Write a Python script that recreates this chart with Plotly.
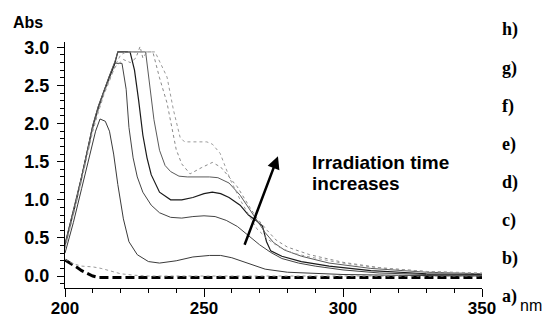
import plotly.graph_objects as go

# ---------------- data ----------------
wl_a = [200, 202, 204, 206, 208, 210, 212, 220, 250, 300, 350]
abs_a = [0.21, 0.17, 0.12, 0.07, 0.03, 0.0, -0.02, -0.02, -0.02, -0.02, -0.02]

wl_b = [200, 203, 206, 210, 213, 216, 220, 225, 230, 260, 300, 350]
abs_b = [0.22, 0.16, 0.13, 0.12, 0.10, 0.07, 0.03, 0.01, 0.0, 0.0, 0.0, 0.0]

wl_c = [200, 203, 206, 209, 211, 212.6, 214.5, 216, 217.5, 219, 221, 223, 226, 230, 234,
        240, 246, 252, 256, 260, 264, 268, 272, 280, 290, 300, 320, 350]
abs_c = [0.30, 0.70, 1.15, 1.60, 1.90, 2.06, 2.03, 1.90, 1.60, 1.20, 0.75, 0.45, 0.28, 0.19, 0.17,
         0.20, 0.25, 0.27, 0.27, 0.24, 0.19, 0.13, 0.09, 0.05, 0.03, 0.02, 0.01, 0.0]

wl_d = [200, 202, 204, 206, 208, 210, 212, 214, 216, 218, 220.5, 222, 223, 224.5, 226, 228, 231,
        234, 238, 242, 246, 250, 254, 258, 262, 266, 270, 274, 278, 284, 290, 300, 313, 330, 350]
abs_d = [0.42, 0.70, 1.00, 1.30, 1.62, 1.95, 2.20, 2.42, 2.60, 2.79, 2.79, 2.45, 1.95, 1.55, 1.30,
         1.10, 0.93, 0.83, 0.77, 0.76, 0.78, 0.79, 0.78, 0.73, 0.65, 0.53, 0.41, 0.31, 0.23, 0.17,
         0.13, 0.08, 0.04, 0.02, 0.01]

wl_e = [200, 202, 204, 206, 208, 210, 212, 214, 216, 218, 219, 223.4, 225, 226.5, 228, 229.5,
        231, 234, 238, 242, 246, 250, 253, 256, 259, 263, 266, 269, 271, 272.5, 274, 278, 285,
        295, 310, 330, 350]
abs_e = [0.40, 0.68, 0.98, 1.30, 1.63, 1.97, 2.22, 2.43, 2.62, 2.80, 2.94, 2.94, 2.70, 2.30, 1.85,
         1.55, 1.33, 1.10, 1.00, 1.00, 1.03, 1.08, 1.10, 1.08, 1.03, 0.93, 0.80, 0.72, 0.66, 0.45,
         0.33, 0.26, 0.19, 0.13, 0.07, 0.03, 0.02]

wl_f = [200, 202, 204, 206, 208, 210, 212, 214, 216, 218, 219, 229, 230.5, 232, 234, 236, 238,
        241, 244, 248, 252, 255, 259, 263, 266, 269, 272, 275, 279, 285, 295, 310, 330, 350]
abs_f = [0.42, 0.71, 1.01, 1.31, 1.64, 1.98, 2.23, 2.44, 2.63, 2.82, 2.94, 2.94, 2.50, 2.05, 1.65,
         1.45, 1.37, 1.31, 1.30, 1.30, 1.30, 1.29, 1.22, 1.06, 0.90, 0.74, 0.57, 0.44, 0.34, 0.26,
         0.17, 0.10, 0.05, 0.03]

wl_g = [200, 202, 204, 206, 208, 210, 212, 214, 216, 218, 221, 223.5, 225.5, 227, 228, 229.5,
        231.6, 234, 236.7, 238.5, 240, 242, 245, 249, 253, 256, 259, 262, 266.5, 269, 272.7, 276,
        280, 288, 300, 315, 330, 350]
abs_g = [0.38, 0.66, 0.97, 1.28, 1.60, 1.93, 2.18, 2.40, 2.58, 2.74, 2.84, 2.80, 2.86, 3.01, 2.86,
         2.94, 2.94, 2.60, 2.27, 1.91, 1.66, 1.47, 1.34, 1.42, 1.49, 1.43, 1.30, 1.17, 0.90, 0.76,
         0.60, 0.47, 0.38, 0.28, 0.18, 0.10, 0.06, 0.03]

wl_h = [200, 202, 204, 206, 208, 210, 212, 214, 216, 218, 220, 222, 232.4, 234.5, 236.7, 239,
        241.4, 243, 247, 251, 253, 255.8, 257.5, 259.4, 263, 266, 269, 273, 277, 282, 288, 298,
        310, 330, 350]
abs_h = [0.36, 0.64, 0.95, 1.26, 1.58, 1.90, 2.15, 2.38, 2.56, 2.76, 2.90, 2.94, 2.94, 2.78, 2.61,
         2.18, 1.82, 1.76, 1.76, 1.76, 1.73, 1.61, 1.45, 1.27, 1.00, 0.80, 0.62, 0.48, 0.38, 0.30,
         0.25, 0.18, 0.12, 0.06, 0.04]

curve_labels = ["h)", "g)", "f)", "e)", "d)", "c)", "b)", "a)"]
y_ticks = [0.0, 0.5, 1.0, 1.5, 2.0, 2.5, 3.0]
x_ticks = [200, 250, 300, 350]

arrow_tail = (264.4, 0.39)
arrow_head = (276.6, 1.57)

# ---------------- figure ----------------
W, H = 544, 321
ML, MR, MT, MB = 65, 62, 42, 33
PW, PH = W - ML - MR, H - MT - MB


def px(xp):
    return (xp - ML) / PW


def py(yp):
    return (H - MB - yp) / PH


fig = go.Figure()

series = [
    (wl_a, abs_a, dict(color="black", width=3, dash="9px,4px")),
    (wl_b, abs_b, dict(color="#9a9a9a", width=1, dash="dot")),
    (wl_c, abs_c, dict(color="#3a3a3a", width=1)),
    (wl_d, abs_d, dict(color="#444444", width=1)),
    (wl_e, abs_e, dict(color="#1a1a1a", width=1.2)),
    (wl_f, abs_f, dict(color="#5a5a5a", width=1)),
    (wl_g, abs_g, dict(color="#8a8a8a", width=1, dash="dot")),
    (wl_h, abs_h, dict(color="#9a9a9a", width=1, dash="dot")),
]
for x, y, ln in series:
    fig.add_trace(go.Scatter(x=x, y=y, mode="lines", line=ln, showlegend=False,
                             hoverinfo="skip"))

sans = "Liberation Sans, Arial, sans-serif"
serif = "Liberation Serif, Times New Roman, serif"

fig.update_xaxes(
    range=[200, 350], showline=True, linecolor="black", linewidth=1, automargin=False,
    ticks="outside", ticklen=8, tickwidth=1, tickcolor="black",
    tickvals=x_ticks, ticktext=[str(v) for v in x_ticks],
    tickfont=dict(family=sans, size=17, color="black", weight="bold"),
    ticklabelstandoff=-3,
    showgrid=False, zeroline=False,
    minor=dict(ticks="outside", ticklen=4, dtick=10, tick0=200, tickcolor="black", showgrid=False),
)
fig.update_yaxes(
    range=[-0.157, 3.07], showline=True, linecolor="black", linewidth=1, automargin=False,
    ticks="outside", ticklen=7, tickwidth=1, tickcolor="black",
    tickvals=y_ticks, ticktext=[f"{v:.1f}" for v in y_ticks],
    tickfont=dict(family=sans, size=18, color="black", weight="bold"),
    ticklabelstandoff=4,
    showgrid=False, zeroline=False,
    minor=dict(ticks="outside", ticklen=4, dtick=0.1, tick0=0, tickcolor="black", showgrid=False),
)

annotations = []


def text_ann(xp, yp, text, font, xanchor="left"):
    return dict(x=px(xp), y=py(yp), xref="paper", yref="paper", text=text,
                xanchor=xanchor, yanchor="middle", showarrow=False, font=font)


# axis captions
annotations.append(text_ann(28, 22, "Abs", dict(family=sans, size=16, color="black", weight="bold"),
                            xanchor="center"))
annotations.append(text_ann(518, 305, "nm", dict(family=sans, size=16, color="black")))
# curve labels
label_y = [30, 68, 106, 144, 182, 220, 258, 296]
for lab, yy in zip(curve_labels, label_y):
    annotations.append(text_ann(500, yy, lab,
                                dict(family=serif, size=18, color="black", weight="bold")))
# text
annotations.append(text_ann(310, 162, "Irradiation time",
                            dict(family=sans, size=19, color="black", weight="bold")))
annotations.append(text_ann(310, 184, "increases",
                            dict(family=sans, size=19, color="black", weight="bold")))
# arrow
annotations.append(dict(x=arrow_head[0], y=arrow_head[1], ax=arrow_tail[0], ay=arrow_tail[1],
                        xref="x", yref="y", axref="x", ayref="y", text="", showarrow=True,
                        arrowhead=2, arrowsize=1, arrowwidth=2.5, arrowcolor="black"))

fig.update_layout(
    width=W, height=H, margin=dict(l=ML, r=MR, t=MT, b=MB),
    paper_bgcolor="white", plot_bgcolor="white",
    annotations=annotations, showlegend=False,
)

fig.write_html("out.html")
